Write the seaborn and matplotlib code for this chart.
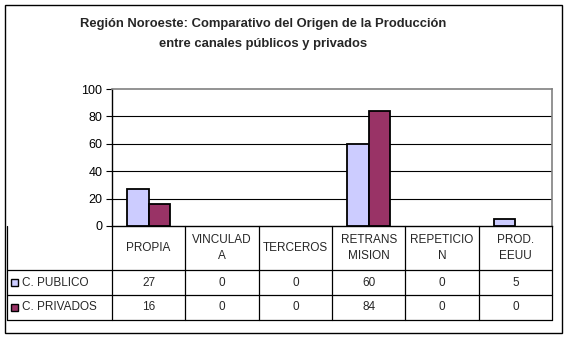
import matplotlib
matplotlib.use("Agg")
import matplotlib.pyplot as plt
import matplotlib.transforms as mtransforms
from matplotlib.lines import Line2D
from matplotlib.patches import Rectangle
import seaborn as sns
import pandas as pd

# Chart data
categories = ["PROPIA", "VINCULADA", "TERCEROS", "RETRANSMISION", "REPETICION", "PROD. EEUU"]
header_labels = ["PROPIA", "VINCULAD\nA", "TERCEROS", "RETRANS\nMISION", "REPETICIO\nN", "PROD.\nEEUU"]
series = ["C. PUBLICO", "C. PRIVADOS"]
publico = [27, 0, 0, 60, 0, 5]
privados = [16, 0, 0, 84, 0, 0]
y_ticks = [0, 20, 40, 60, 80, 100]
colors = ["#CCCCFF", "#993366"]
title_lines = ["Región Noroeste: Comparativo del Origen de la Producción",
               "entre canales públicos y privados"]

df = pd.DataFrame({
    "categoria": categories * 2,
    "serie": [series[0]] * len(categories) + [series[1]] * len(categories),
    "valor": publico + privados,
})

sns.set_style("white")
plt.rcParams["font.family"] = ["Liberation Sans", "DejaVu Sans"]

W, H = 569, 339
fig = plt.figure(figsize=(W / 100, H / 100), dpi=100)
fig.patch.set_facecolor("white")


def fx(px):
    return px / W


def fy(py):
    return 1 - py / H


ax = fig.add_axes([fx(112), fy(226), fx(440), 137 / H])

sns.barplot(data=df, x="categoria", y="valor", hue="serie", order=categories,
            hue_order=series, palette=colors, saturation=1, edgecolor="black",
            linewidth=1.3, width=0.58, legend=False, ax=ax, zorder=3)

# Empty bars should not leave an outline on the baseline
for bar in ax.patches:
    if bar.get_height() == 0:
        bar.set_visible(False)

ax.set_xlim(-0.5, len(categories) - 0.5)
ax.set_ylim(0, 100)
ax.set_yticks(y_ticks)
ax.set_xticks([])
ax.set_xlabel("")
ax.set_ylabel("")
ax.tick_params(axis="y", length=4, width=0.8, direction="out", color="black",
               labelsize=9, labelcolor="black", pad=3, left=True)
for y in y_ticks[1:-1]:
    ax.axhline(y, color="black", linewidth=0.8, zorder=1)
for side in ("top", "right"):
    ax.spines[side].set_color("#808080")
    ax.spines[side].set_linewidth(1.2)
for side in ("left", "bottom"):
    ax.spines[side].set_color("black")
    ax.spines[side].set_linewidth(1.0)

# Title
fig.text(fx(263), fy(24), title_lines[0], ha="center", va="center",
         fontsize=9.4, fontweight="bold")
fig.text(fx(263), fy(44), title_lines[1], ha="center", va="center",
         fontsize=9.4, fontweight="bold")

# Data table under the plot
blend = mtransforms.blended_transform_factory(ax.transData, fig.transFigure)
row_y = [226, 270, 295, 320]
x_right = ax.get_position().x1
lw = 0.9
for y in row_y[1:]:
    fig.add_artist(Line2D([fx(7), x_right], [fy(y), fy(y)], color="black", lw=lw))
fig.add_artist(Line2D([fx(7), fx(7)], [fy(226), fy(320)], color="black", lw=lw))
for i in range(len(categories) + 1):
    fig.add_artist(Line2D([i - 0.5, i - 0.5], [fy(226), fy(320)], color="black",
                          lw=lw, transform=blend))

head_c = (row_y[0] + row_y[1]) / 2
for i, lab in enumerate(header_labels):
    fig.text(i, fy(head_c), lab, transform=blend, ha="center", va="center",
             fontsize=8.5, linespacing=1.45)

for r, (name, vals, col) in enumerate(zip(series, [publico, privados], colors)):
    yc = (row_y[r + 1] + row_y[r + 2]) / 2
    fig.add_artist(Rectangle((fx(11), fy(yc + 3.5)), fx(7), 7 / H, facecolor=col,
                             edgecolor="black", lw=1.0, transform=fig.transFigure))
    fig.text(fx(22), fy(yc), name, ha="left", va="center", fontsize=8.5)
    for i, v in enumerate(vals):
        fig.text(i, fy(yc), str(v), transform=blend, ha="center", va="center",
                 fontsize=8.5)

# Outer frame
fig.add_artist(Rectangle((fx(5), fy(333)), fx(557), 328 / H, facecolor="none",
                         edgecolor="black", lw=1.0, transform=fig.transFigure))

fig.savefig("out.png", dpi=100, facecolor="white")
